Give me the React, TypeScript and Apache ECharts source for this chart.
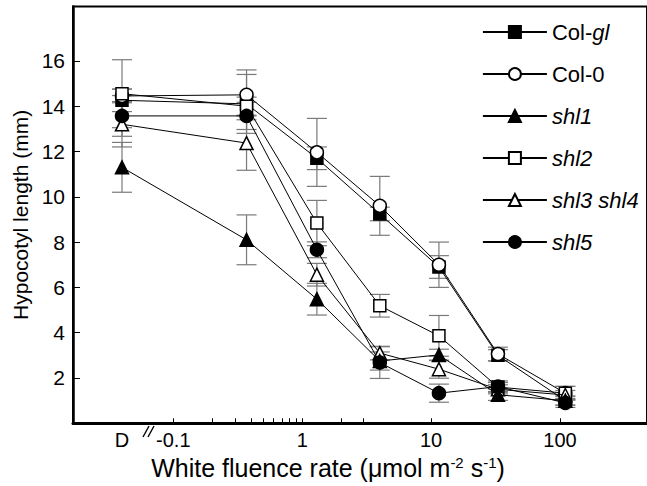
import React, { useEffect, useRef } from 'react';
import * as echarts from 'echarts';

// fluence rate (µmol m-2 s-1); first entry is the dark (D) point, plotted left of the break
const fluence = [0.04, 0.37, 1.3, 4.0, 11.5, 33, 110];

const colGl = [14.26, 14.1, 11.7, 9.24, 6.9, 3.0, 1.0];
const col0 = [14.45, 14.5, 11.96, 9.6, 7.0, 3.06, 1.33];
const shl1 = [11.3, 8.1, 5.48, 2.75, 3.02, 1.26, 1.0];
const shl2 = [14.55, 14.0, 8.84, 5.19, 3.86, 1.6, 1.33];
const shl34 = [13.2, 12.37, 6.56, 3.1, 2.39, 1.5, 1.25];
const shl5 = [13.57, 13.57, 7.66, 2.68, 1.33, 1.62, 0.9];

const colGlErr = [0.5, 1.3, 0.5, 0.3, 0.5, 0.25, 0.2];
const col0Err = [0.3, 1.1, 1.5, 1.3, 1.0, 0.3, 0.3];
const shl1Err = [1.1, 1.1, 0.7, 0.4, 0.25, 0.25, 0.2];
const shl2Err = [1.5, 0.4, 1.0, 0.5, 0.9, 0.2, 0.3];
const shl34Err = [1.0, 1.2, 0.5, 0.3, 0.4, 0.2, 0.2];
const shl5Err = [0.9, 0.6, 0.35, 0.7, 0.4, 0.25, 0.2];

const legendOrder = ['Col-gl', 'Col-0', 'shl1', 'shl2', 'shl3 shl4', 'shl5'];

const xTickValues = [0.1, 0.2, 0.3, 0.4, 0.5, 0.6, 0.7, 0.8, 0.9, 1, 2, 3, 10, 100];
const xLabelValues = [0.04, 0.1, 1, 10, 100];
const xLabelText = ['D', '-0.1', '1', '10', '100'];
const yTickValues = [2, 4, 6, 8, 10, 12, 14, 16];

const FONT = "'Liberation Sans', Arial, Helvetica, sans-serif";

type Def = { name: string; values: number[]; err: number[]; symbol: string; filled: boolean; size: number };

const defs: Def[] = [
  { name: 'Col-gl', values: colGl, err: colGlErr, symbol: 'rect', filled: true, size: 12 },
  { name: 'Col-0', values: col0, err: col0Err, symbol: 'circle', filled: false, size: 13 },
  { name: 'shl2', values: shl2, err: shl2Err, symbol: 'rect', filled: false, size: 12 },
  { name: 'shl3 shl4', values: shl34, err: shl34Err, symbol: 'triangle', filled: false, size: 13 },
  { name: 'shl1', values: shl1, err: shl1Err, symbol: 'triangle', filled: true, size: 13 },
  { name: 'shl5', values: shl5, err: shl5Err, symbol: 'circle', filled: true, size: 13 },
];

export default function App() {
  const ref = useRef<HTMLDivElement>(null);
  useEffect(() => {
    if (!ref.current) return;
    const chart = echarts.init(ref.current, undefined, { renderer: 'svg' });

    const errSeries = defs.map((d) => ({
      type: 'custom',
      name: d.name + ' err',
      silent: true,
      z: 2,
      clip: false,
      encode: { x: 0, y: 1 },
      data: fluence.map((x, i) => [x, d.values[i], d.err[i]]),
      renderItem: (params: any, api: any) => {
        const x = api.value(0);
        const y = api.value(1);
        const e = api.value(2);
        const top = api.coord([x, y + e]);
        const bot = api.coord([x, y - e]);
        const hw = 10;
        const st = { stroke: '#7a7a7a', lineWidth: 1.2 };
        return {
          type: 'group',
          children: [
            { type: 'line', shape: { x1: top[0], y1: top[1], x2: bot[0], y2: bot[1] }, style: st },
            { type: 'line', shape: { x1: top[0] - hw, y1: top[1], x2: top[0] + hw, y2: top[1] }, style: st },
            { type: 'line', shape: { x1: bot[0] - hw, y1: bot[1], x2: bot[0] + hw, y2: bot[1] }, style: st },
          ],
        };
      },
    }));

    const lineSeries = defs.map((d, k) => ({
      type: 'line',
      name: d.name,
      data: fluence.map((x, i) => [x, d.values[i]]),
      symbol: d.symbol,
      symbolSize: d.size,
      showAllSymbol: true,
      z: 3 + k,
      clip: false,
      lineStyle: { color: '#000', width: 1 },
      itemStyle: { color: d.filled ? '#000' : '#fff', borderColor: '#000', borderWidth: 1.5 },
      emphasis: { disabled: true },
    }));

    chart.setOption({
      animation: false,
      backgroundColor: '#fff',
      grid: {
        left: 73,
        top: 6.5,
        right: -5,
        bottom: 62.7,
        show: true,
        borderColor: '#000',
        borderWidth: 2,
        backgroundColor: 'transparent',
      },
      legend: {
        data: legendOrder,
        orient: 'vertical',
        left: 482,
        top: 21,
        padding: 0,
        itemWidth: 64,
        itemHeight: 15,
        itemGap: 20,
        selectedMode: false,
        lineStyle: { width: 1.8, color: '#000' },
        formatter: (name: string) => {
          if (name === 'Col-gl') return 'Col-{i|gl}';
          if (name === 'Col-0') return name;
          return '{i|' + name + '}';
        },
        textStyle: {
          fontFamily: FONT,
          fontSize: 22,
          color: '#000',
          rich: { i: { fontFamily: FONT, fontSize: 22, fontStyle: 'italic', color: '#000' } },
        },
      },
      xAxis: {
        type: 'log',
        logBase: 10,
        min: 0.01667,
        max: 473,
        name: 'White fluence rate (\u03bcmol m{sup|-2} s{sup|-1})',
        nameLocation: 'middle',
        nameGap: 31,
        nameTextStyle: {
          fontFamily: FONT,
          fontSize: 25,
          color: '#000',
          padding: [0, 64, 0, 0],
          rich: { sup: { fontFamily: FONT, fontSize: 15, color: '#000', verticalAlign: 'top', padding: [0, 0, 10, 0] } },
        },
        axisLine: { show: true, lineStyle: { color: '#000', width: 3 } },
        axisTick: { show: true, inside: true, length: 5, customValues: xTickValues, lineStyle: { color: '#000', width: 1 } },
        axisLabel: {
          show: true,
          customValues: xLabelValues,
          margin: 7,
          fontFamily: FONT,
          fontSize: 20,
          color: '#000',
          formatter: (v: number) => {
            for (let i = 0; i < xLabelValues.length; i++) {
              if (Math.abs(Math.log10(v) - Math.log10(xLabelValues[i])) < 1e-6) return xLabelText[i];
            }
            return '';
          },
        },
        splitLine: { show: false },
        minorTick: { show: false },
      },
      yAxis: {
        type: 'value',
        min: 0,
        max: 18.4,
        name: 'Hypocotyl length (mm)',
        nameLocation: 'middle',
        nameGap: 39,
        nameTextStyle: { fontFamily: FONT, fontSize: 21, color: '#000' },
        axisLine: { show: true, lineStyle: { color: '#000', width: 2.5 } },
        axisTick: { show: true, inside: true, length: 7, customValues: yTickValues, lineStyle: { color: '#000', width: 1 } },
        axisLabel: { show: true, customValues: yTickValues, margin: 8, fontFamily: FONT, fontSize: 21, color: '#000' },
        splitLine: { show: false },
      },
      graphic: [
        { type: 'line', shape: { x1: 143, y1: 437, x2: 149, y2: 426 }, style: { stroke: '#000', lineWidth: 1.4 } },
        { type: 'line', shape: { x1: 148, y1: 437, x2: 154, y2: 426 }, style: { stroke: '#000', lineWidth: 1.4 } },
      ],
      series: [...errSeries, ...lineSeries],
    });
    return () => chart.dispose();
  }, []);
  return <div ref={ref} style={{ position: 'fixed', left: 0, top: 0, width: 647, height: 486 }} />;
}
